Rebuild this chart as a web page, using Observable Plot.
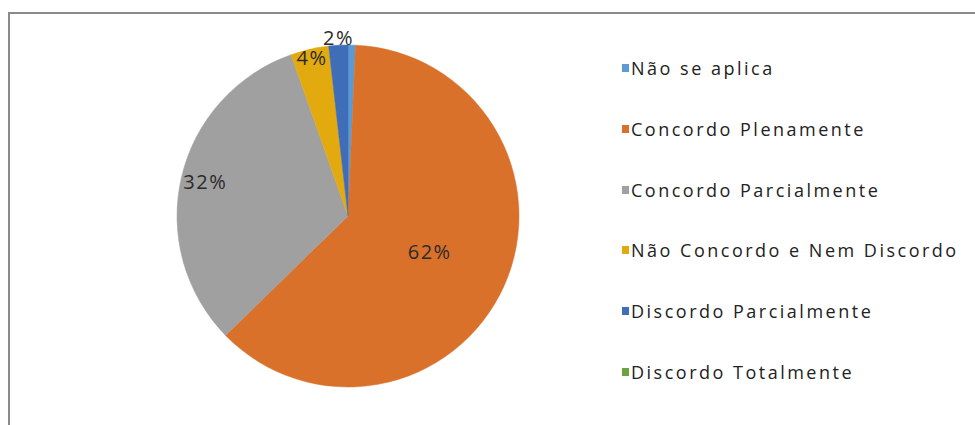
<!DOCTYPE html>
<html><head><meta charset="utf-8">
<script src="https://cdn.jsdelivr.net/npm/d3@7"></script>
<script src="https://cdn.jsdelivr.net/npm/@observablehq/plot@0.6"></script>
<style>
body{margin:0;background:#fff;}
#wrap{position:relative;width:975px;height:425px;overflow:hidden;font-family:"Open Sans",sans-serif;background:#fff;}
#frame{position:absolute;left:8px;top:12px;width:990px;height:440px;border-top:2px solid #8a8a8a;border-left:2px solid #8a8a8a;}
#chart{position:absolute;left:0;top:0;}
#legend{position:absolute;left:0;top:0;}
.item{position:absolute;left:622px;white-space:nowrap;display:flex;align-items:center;font-size:18px;letter-spacing:2.5px;color:#222;height:20px;}
.sw{width:7px;height:8px;margin-right:2px;flex:none;}
</style></head>
<body><div id="wrap"><div id="frame"></div><div id="chart"></div><div id="legend"></div></div>
<script>
const categories = ["Não se aplica", "Concordo Plenamente", "Concordo Parcialmente", "Não Concordo e Nem Discordo", "Discordo Parcialmente", "Discordo Totalmente"];
const values = [0.7, 62.0, 31.9, 3.6, 1.8, 0];
const colors = ["#5B9BD5", "#D9712B", "#A0A0A0", "#E3AA10", "#3F6DB8", "#6AA33F"];

const pie = d3.pie().sort(null).value(d => d.value);
const arcs = pie(categories.map((c, i) => ({category: c, value: values[i], color: colors[i]})));
const total = d3.sum(values);

function labelRadius(share) {
  if (share >= 0.5) return 0.52;
  if (share >= 0.1) return 0.86;
  if (share >= 0.03) return 0.95;
  return 1.04;
}
const labels = arcs.filter(a => a.data.value / total >= 0.01).map(a => {
  const share = a.data.value / total;
  const mid = (a.startAngle + a.endAngle) / 2;
  const f = labelRadius(share);
  return {x: f * Math.sin(mid), y: f * Math.cos(mid), text: Math.round(share * 100) + "%"};
});

const slices = (index, scales, values_, dimensions) => {
  const cx = scales.x(0), cy = scales.y(0);
  const r = scales.x(1) - scales.x(0);
  const arcGen = d3.arc().innerRadius(0).outerRadius(r);
  const g = d3.create("svg:g").attr("transform", `translate(${cx},${cy})`);
  g.selectAll("path").data(arcs.filter(a => a.data.value > 0)).join("path")
    .attr("d", arcGen)
    .attr("fill", d => d.data.color)
    .attr("stroke", d => d.data.color)
    .attr("stroke-width", 0.5);
  return g.node();
};

const chart = Plot.plot({
  width: 975,
  height: 425,
  marginLeft: 177,
  marginRight: 456,
  marginTop: 45,
  marginBottom: 38,
  x: {domain: [-1, 1], axis: null},
  y: {domain: [-1, 1], axis: null},
  style: {background: "transparent", fontFamily: "Open Sans, sans-serif"},
  marks: [
    slices,
    Plot.text(labels, {x: "x", y: "y", text: "text", fontSize: 20, fill: "#2b2b2b"})
  ]
});
chart.querySelectorAll("text").forEach(t => t.setAttribute("letter-spacing", "1.5"));
document.getElementById("chart").appendChild(chart);

const legend = document.getElementById("legend");
categories.forEach((c, i) => {
  const item = document.createElement("div");
  item.className = "item";
  item.style.top = (58 + i * 60.8) + "px";
  const sw = document.createElement("span");
  sw.className = "sw";
  sw.style.background = colors[i];
  const tx = document.createElement("span");
  tx.textContent = c;
  item.appendChild(sw);
  item.appendChild(tx);
  legend.appendChild(item);
});
</script>
</body></html>
